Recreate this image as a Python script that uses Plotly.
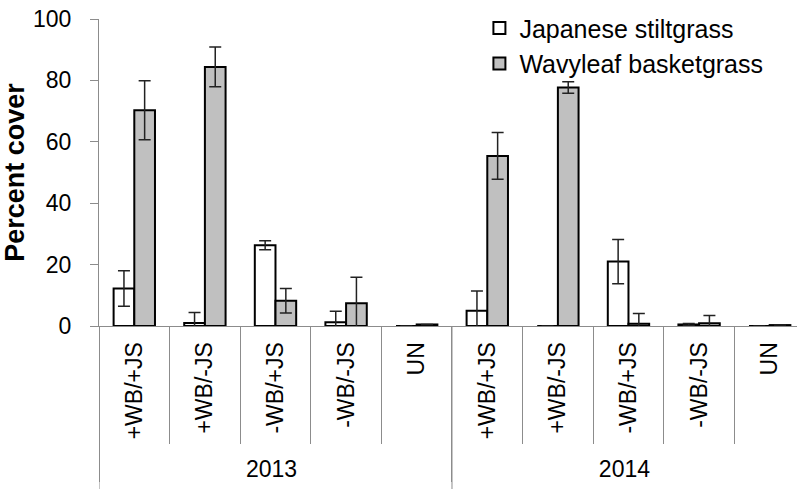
import plotly.graph_objects as go

# Treatment plots sampled in each year
years = ["2013"] * 5 + ["2014"] * 5
treatments = ["+WB/+JS", "+WB/-JS", "-WB/+JS", "-WB/-JS", "UN"] * 2

# Mean percent cover and standard error per treatment
stiltgrass = [12.2, 1.0, 26.3, 1.2, 0.0, 5.0, 0.0, 21.0, 0.5, 0.0]
stiltgrass_se = [5.8, 3.4, 1.5, 3.6, 0.0, 6.4, 0.0, 7.2, 0.3, 0.0]
basketgrass = [70.3, 84.4, 8.2, 7.4, 0.5, 55.4, 77.7, 0.7, 0.9, 0.3]
basketgrass_se = [9.6, 6.5, 4.0, 8.5, 0.0, 7.6, 1.9, 3.4, 2.5, 0.0]

font_family = "Liberation Sans, Arial, sans-serif"
axis_grey = "#8c8c8c"

x = [years, treatments]

fig = go.Figure()
fig.add_trace(go.Bar(
    x=x, y=stiltgrass, name="Japanese stiltgrass",
    marker=dict(color="white", line=dict(color="black", width=2)),
    error_y=dict(type="data", array=stiltgrass_se, visible=True,
                 color="#222222", thickness=1.5, width=6),
))
fig.add_trace(go.Bar(
    x=x, y=basketgrass, name="Wavyleaf basketgrass",
    marker=dict(color="#c0c0c0", line=dict(color="black", width=2)),
    error_y=dict(type="data", array=basketgrass_se, visible=True,
                 color="#222222", thickness=1.5, width=6),
))

fig.update_layout(
    width=797, height=489,
    margin=dict(l=99, r=0, t=19, b=163),
    paper_bgcolor="white", plot_bgcolor="white",
    barmode="group", bargap=0.414, bargroupgap=0.0,
    font=dict(family=font_family, color="black", size=22),
    legend=dict(x=0.545, y=1.045, xanchor="left", yanchor="top",
                traceorder="normal",
                font=dict(size=25), bgcolor="rgba(0,0,0,0)"),
    showlegend=True,
)

# Year dividers reaching to the bottom edge
for boundary in [-0.5, 4.5]:
    fig.add_shape(type="line", xref="x", yref="paper",
                  x0=boundary, x1=boundary, y0=0, y1=-0.6,
                  line=dict(color=axis_grey, width=1))

fig.update_xaxes(
    type="multicategory",
    range=[-0.5, 9.387],
    showline=True, linecolor=axis_grey, linewidth=1,
    ticks="outside", tickson="boundaries", ticklen=117,
    tickcolor=axis_grey, tickwidth=1,
    tickangle=-90,
    ticklabelstandoff=6,
    tickfont=dict(size=23),
    showdividers=True, dividercolor=axis_grey, dividerwidth=1,
    showgrid=False,
)
fig.update_yaxes(
    range=[0, 100], dtick=20,
    showline=True, linecolor=axis_grey, linewidth=1,
    ticks="outside", ticklen=8, tickcolor=axis_grey,
    ticklabelstandoff=14,
    tickfont=dict(size=23),
    showgrid=False, zeroline=False,
    title=dict(text="<b>Percent cover</b>", font=dict(size=27), standoff=0),
)

fig.write_html("out.html")
